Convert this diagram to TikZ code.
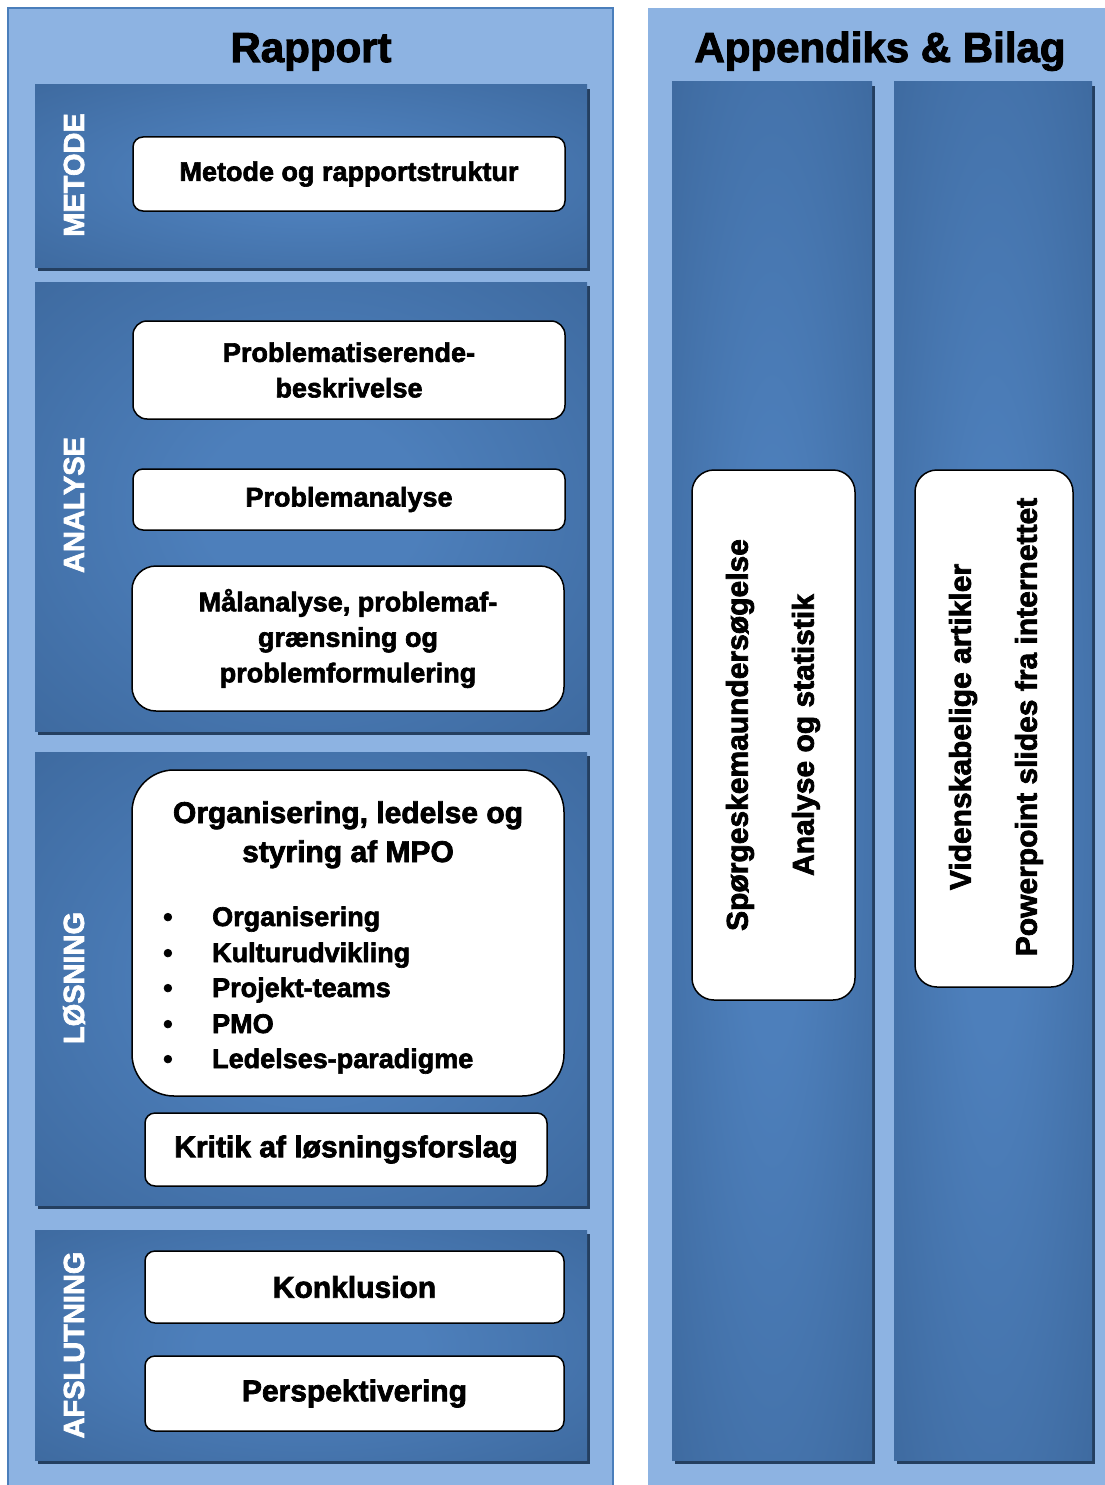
\documentclass[tikz,border=0pt]{standalone}
\usepackage{fontspec}
\setmainfont{Liberation Sans}[BoldFeatures={FakeBold=2.4}]
\usetikzlibrary{shadows}
\definecolor{lightpanel}{HTML}{8DB3E2}
\definecolor{panelborder}{HTML}{4A7EBB}
\definecolor{pin}{HTML}{4D7FBB}
\definecolor{pout}{HTML}{365F91}
\definecolor{pshadow}{HTML}{243F60}
\pgfdeclareradialshading{panelshade}{\pgfpoint{0bp}{0bp}}{color(0bp)=(pin); color(10bp)=(pin); color(50bp)=(pout); color(100bp)=(pout)}
\tikzset{
  panel/.style={fill=lightpanel, inner sep=0pt, outer sep=0pt},
  section/.style={shading=panelshade, inner sep=0pt, outer sep=0pt,
    drop shadow={shadow xshift=3pt, shadow yshift=-4pt, fill=pshadow, opacity=1}},
  wbox/.style={draw=black, fill=white, line width=1.5pt, inner sep=0pt, align=center,
    font=\fontsize{27}{35.5}\selectfont\bfseries},
  bigtext/.style={font=\fontsize{30}{36}\selectfont\bfseries},
  bullettext/.style={font=\fontsize{27}{35.5}\selectfont\bfseries, inner sep=0pt, anchor=base west},
  titletext/.style={font=\fontsize{42}{50}\selectfont\bfseries, inner sep=0pt, anchor=base},
  seclabel/.style={font=\fontsize{29}{35}\selectfont\bfseries, text=white, rotate=90, inner sep=0pt},
  apptext/.style={font=\fontsize{30}{36}\selectfont\bfseries, rotate=90, align=center, inner sep=0pt}
}
\begin{document}
\begin{tikzpicture}[x=1pt,y=-1pt]
\useasboundingbox (0,0) rectangle (1105,1485);
% outer panels
\node[panel, draw=panelborder, line width=2pt, minimum width=605pt, minimum height=1480pt] (lp) at (310.5,748) {};
\node[panel, minimum width=457pt, minimum height=1480pt] (rp) at (876.5,748) {};
\node[titletext] (t1) at (311,62) {Rapport};
\node[titletext] (t2) at (880,62) {Appendiks \& Bilag};
% sections
\node[section, minimum width=552pt, minimum height=182pt] (metsec) at (311,176) {};
\node[section, minimum width=552pt, minimum height=449pt] (anasec) at (311,506.5) {};
\node[section, minimum width=552pt, minimum height=453pt] (lossec) at (311,978.5) {};
\node[section, minimum width=552pt, minimum height=230pt] (afssec) at (311,1345) {};
\node[section, minimum width=200pt, minimum height=1378pt] (col1) at (772,771) {};
\node[section, minimum width=198pt, minimum height=1378pt] (col2) at (993,771) {};
% section labels
\node[seclabel] (l1) at (74,175) {METODE};
\node[seclabel] (l2) at (74,505) {ANALYSE};
\node[seclabel] (l3) at (74,978) {LØSNING};
\node[seclabel] (l4) at (74,1345) {AFSLUTNING};
% white boxes
\node[wbox, rounded corners=10pt, minimum width=432pt, minimum height=74pt] (metbox) at (349,174) {\raisebox{-3pt}{Metode og rapportstruktur}};
\node[wbox, rounded corners=14pt, minimum width=432pt, minimum height=98pt] (pb1) at (349,370) {Problematiserende-\\beskrivelse};
\node[wbox, rounded corners=10pt, minimum width=432pt, minimum height=61pt] (pb2) at (349,499.5) {\raisebox{3pt}{Problemanalyse}};
\node[wbox, rounded corners=24pt, minimum width=432pt, minimum height=145pt] (pb3) at (348,638.5) {Målanalyse, problemaf-\\grænsning og\\problemformulering};
\node[wbox, rounded corners=42pt, minimum width=432pt, minimum height=326pt] (org) at (348,933) {};
\node[bigtext, anchor=base, inner sep=0pt] (ot1) at (348,823) {Organisering, ledelse og};
\node[bigtext, anchor=base, inner sep=0pt] (ot2) at (348,862) {styring af MPO};
\node[bullettext] (b1) at (163,926) {\makebox[49pt][l]{\textbullet}Organisering};
\node[bullettext] (b2) at (163,962) {\makebox[49pt][l]{\textbullet}Kulturudvikling};
\node[bullettext] (b3) at (163,997) {\makebox[49pt][l]{\textbullet}Projekt-teams};
\node[bullettext] (b4) at (163,1033) {\makebox[49pt][l]{\textbullet}PMO};
\node[bullettext] (b5) at (163,1068) {\makebox[49pt][l]{\textbullet}Ledelses-paradigme};
\node[wbox, bigtext, rounded corners=10pt, minimum width=402pt, minimum height=73pt] (krit) at (346,1149.5) {Kritik af løsningsforslag};
\node[wbox, bigtext, rounded corners=10pt, minimum width=419pt, minimum height=72pt] (konk) at (354.5,1287) {\raisebox{-3pt}{Konklusion}};
\node[wbox, bigtext, rounded corners=10pt, minimum width=419pt, minimum height=75pt] (persp) at (354.5,1393.5) {\raisebox{-2pt}{Perspektivering}};
% appendix boxes
\node[wbox, rounded corners=22pt, minimum width=163pt, minimum height=530pt] (ab1) at (773.5,735) {};
\node[wbox, rounded corners=22pt, minimum width=158pt, minimum height=517pt] (ab2) at (994,728.5) {};
\node[apptext] (at1) at (773,735) {Spørgeskemaundersøgelse\\[30pt]Analyse og statistik};
\node[apptext] (at2) at (996,727) {Videnskabelige artikler\\[30pt]Powerpoint slides fra internettet};
\end{tikzpicture}
\end{document}
